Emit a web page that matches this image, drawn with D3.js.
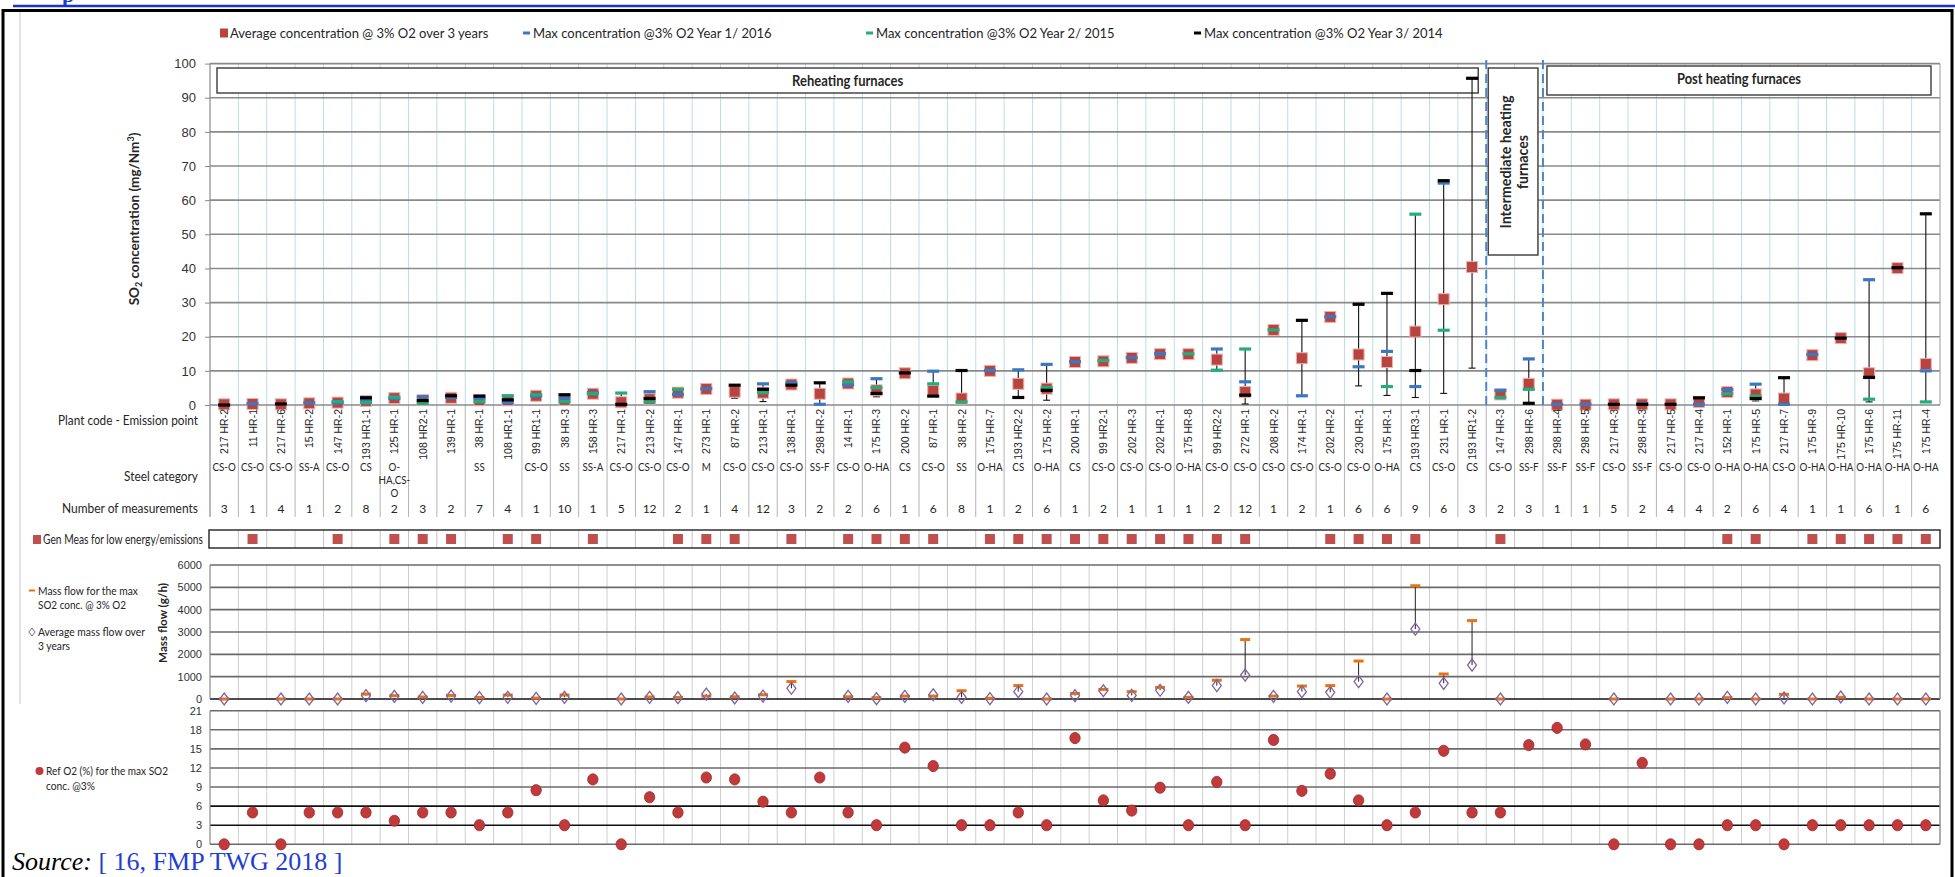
<!DOCTYPE html>
<html><head><meta charset="utf-8">
<script src="https://cdn.jsdelivr.net/npm/d3@7"></script>
<style>
body{margin:0;background:#fff}
svg{display:block}
text{fill:#262626}
</style>
</head><body>
<svg id="c" width="1955" height="877" font-family="Lato,sans-serif"></svg>
<script>
// ---------------- DATA ----------------
const plantCodes = ["217 HR-2","11 HR-1","217 HR-6","15 HR-2","147 HR-2","193 HR1-1","125 HR-1","108 HR2-1","139 HR-1","38 HR-1","108 HR1-1","99 HR1-1","38 HR-3","158 HR-3","217 HR-1","213 HR-2","147 HR-1","273 HR-1","87 HR-2","213 HR-1","138 HR-1","298 HR-2","14 HR-1","175 HR-3","200 HR-2","87 HR-1","38 HR-2","175 HR-7","193 HR2-2","175 HR-2","200 HR-1","99 HR2-1","202 HR-3","202 HR-1","175 HR-8","99 HR2-2","272 HR-1","208 HR-2","174 HR-1","202 HR-2","230 HR-1","175 HR-1","193 HR3-1","231 HR-1","193 HR1-2","147 HR-3","298 HR-6","298 HR-4","298 HR-5","217 HR-3","298 HR-3","217 HR-5","217 HR-4","152 HR-1","175 HR-5","217 HR-7","175 HR-9","175 HR-10","175 HR-6","175 HR-11","175 HR-4"];
const steelCategory = ["CS-O","CS-O","CS-O","SS-A","CS-O","CS","O-HA,CS-O","","","SS","","CS-O","SS","SS-A","CS-O","CS-O","CS-O","M","CS-O","CS-O","CS-O","SS-F","CS-O","O-HA","CS","CS-O","SS","O-HA","CS","O-HA","CS","CS-O","CS-O","CS-O","O-HA","CS-O","CS-O","CS-O","CS-O","CS-O","CS-O","O-HA","CS","CS-O","CS","CS-O","SS-F","SS-F","SS-F","CS-O","SS-F","CS-O","CS-O","O-HA","O-HA","CS-O","O-HA","O-HA","O-HA","O-HA","O-HA"];
const nMeasurements = [3,1,4,1,2,8,2,3,2,7,4,1,10,1,5,12,2,1,4,12,3,2,2,6,1,6,8,1,2,6,1,2,1,1,1,2,12,1,2,1,6,6,9,6,3,2,3,1,1,5,2,4,4,2,6,4,1,1,6,1,6];
const avgConc = [0.2,0.3,0.2,0.5,0.7,1.2,2.0,1.4,2.1,1.4,1.4,2.7,1.5,3.3,0.8,1.7,3.6,4.7,3.9,3.6,6.0,3.3,6.3,4.3,9.3,4.1,1.9,10.0,6.2,4.8,12.6,12.8,13.8,14.9,14.9,13.3,3.8,22.0,13.7,25.8,14.8,12.6,21.5,31.0,40.4,3.1,6.2,0.1,0.1,0.2,0.2,0.2,0.9,3.8,3.1,1.9,14.6,19.6,9.3,40.1,12.0];
const max2016 = [null,0.4,null,0.6,0.6,1.4,1.9,2.4,2.2,1.9,0.7,2.6,2.0,3.6,null,3.9,3.1,4.8,null,6.2,6.5,0.2,5.9,7.7,null,9.9,null,10.1,10.3,11.9,12.7,null,13.9,15.0,null,16.4,6.8,null,2.7,25.9,11.2,15.7,5.4,65.0,null,4.3,13.5,0.2,0.2,null,0.4,null,0.2,4.5,6.1,0.2,14.8,null,36.7,null,10.0];
const max2015 = [null,null,null,null,1.0,0.7,2.3,0.5,null,1.0,2.7,3.0,1.0,3.3,3.5,0.9,4.6,null,null,3.6,null,null,6.8,5.1,null,6.2,0.9,null,null,5.1,null,13.0,null,null,15.0,10.2,16.4,22.0,null,null,null,5.4,55.9,21.9,null,2.2,4.6,null,null,null,null,null,null,3.3,2.6,null,null,null,1.7,null,0.9];
const max2014 = [0.0,null,0.3,null,null,2.1,null,1.3,2.7,2.6,1.5,null,3.0,null,0.2,1.9,null,null,5.8,4.6,5.8,6.5,null,3.4,9.4,2.6,10.1,null,2.2,4.3,null,null,null,null,null,null,2.9,null,24.8,null,29.5,32.7,10.1,65.7,95.7,null,0.5,null,null,0.2,0.2,0.2,2.1,null,1.9,8.0,null,19.6,8.1,40.2,56.0];
const rangeLow = [null,null,null,null,null,null,null,null,null,null,null,null,null,null,null,null,null,null,2.0,1.0,null,null,null,2.4,null,null,null,null,null,1.4,null,null,null,null,null,null,0.3,null,null,null,5.6,2.8,2.2,3.4,10.8,null,null,null,null,null,null,null,null,null,1.2,null,null,null,0.9,null,null];
const genMeas = [0,1,0,0,1,0,1,1,1,0,1,1,0,1,0,0,1,1,1,0,1,0,1,1,1,1,0,1,1,1,1,1,1,1,1,1,1,0,0,1,1,1,1,0,0,1,0,0,0,0,0,0,0,1,1,0,1,1,1,1,1];
const massFlowAvg = [0,null,0,0,0,150,120,75,130,60,75,30,75,null,0,75,60,220,45,130,480,null,120,15,120,190,75,15,330,0,150,370,160,390,75,600,1070,120,330,300,780,0,3130,700,1520,0,null,null,null,0,null,0,0,75,0,45,0,90,0,0,0];
const massFlowMax = [0,null,0,0,0,220,150,90,160,70,180,40,180,null,0,90,70,130,100,190,780,null,100,60,130,130,370,30,600,0,250,430,330,520,75,840,2660,130,580,600,1700,0,5070,1120,3510,0,null,null,null,0,null,0,0,60,0,210,0,80,0,0,0];
const refO2 = [0,5,0,5,5,5,3.7,5,5,3,5,8.5,3,10.2,0,7.4,5,10.5,10.2,6.7,5,10.5,5,3,15.2,12.3,3,3,5,3,16.7,6.9,5.3,8.9,3,9.8,3,16.4,8.4,11.1,6.9,3,5,14.7,5,5,15.6,18.3,15.7,0,12.8,0,0,3,3,0,3,3,3,3,3];
const concTicks = [0,10,20,30,40,50,60,70,80,90,100];
const massTicks = [0,1000,2000,3000,4000,5000,6000];
const o2Ticks = [0,3,6,9,12,15,18,21];
const seriesNames = ["Average concentration @ 3% O2 over 3 years","Max concentration @3% O2 Year 1/ 2016","Max concentration @3% O2 Year 2/ 2015","Max concentration @3% O2 Year 3/ 2014"];
const groupNames = ["Reheating furnaces","Intermediate heating furnaces","Post heating furnaces"];

// ---------------- LAYOUT ----------------
const svg = d3.select("#c");
const N = plantCodes.length;
const L = 210, R = 1940;
const ARIAL = '"Liberation Sans",Arial,sans-serif';
const SERIF = '"Liberation Serif","Times New Roman",serif';
const RED = "#b8443f", BLUE = "#3a78c2", GREEN = "#22ad7c", BLACK = "#000";
function fit(sel, w) { sel.attr("textLength", w).attr("lengthAdjust", "spacingAndGlyphs"); return sel; }
function condense(sel, f) {
  sel.each(function () { const l = this.getComputedTextLength(); if (l > 0) d3.select(this).attr("textLength", l * f).attr("lengthAdjust", "spacingAndGlyphs"); });
  return sel;
}

const x = d3.scaleBand().domain(d3.range(N)).range([L, R]).padding(0);
const bw = x.bandwidth();
const cx = i => x(i) + bw / 2;
const y = d3.scaleLinear().domain([0, 100]).range([405, 63.6]);
const yM = d3.scaleLinear().domain([0, 6000]).range([699, 565]);
const yO = d3.scaleLinear().domain([0, 21]).range([844.3, 710.7]);

// page decorations
svg.append("text").attr("x", 62).attr("y", 2).style("font-family", SERIF)
  .attr("font-weight", "bold").attr("font-size", 22).style("fill", "#1b3fd1").text("p");
svg.append("line").attr("x1", 13).attr("x2", 1955).attr("y1", 6).attr("y2", 6).attr("stroke", "#1433d6").attr("stroke-width", 2.5);
svg.append("path").attr("d", "M3,877V10.5H1952V877").attr("fill", "none").attr("stroke", "#000").attr("stroke-width", 3);
svg.append("line").attr("x1", 20).attr("x2", 20).attr("y1", 12).attr("y2", 704).attr("stroke", "#c8c8c8").attr("stroke-width", 1);

// ---------------- LEGEND ----------------
const legY = 33;
const leg = [
  {x: 220, type: "sq", color: RED, name: seriesNames[0]},
  {x: 523, type: "dash", color: BLUE, name: seriesNames[1]},
  {x: 866, type: "dash", color: GREEN, name: seriesNames[2]},
  {x: 1194, type: "dash", color: BLACK, name: seriesNames[3]}
];
leg.forEach(d => {
  if (d.type === "sq") svg.append("rect").attr("x", d.x).attr("y", legY - 4.5).attr("width", 8).attr("height", 9).attr("fill", d.color);
  else svg.append("rect").attr("x", d.x).attr("y", legY - 1.5).attr("width", 7).attr("height", 3).attr("fill", d.color);
  svg.append("text").attr("x", d.x + 10).attr("y", legY).attr("dy", "0.35em").attr("font-size", 14).text(d.name)
    .call(condense, 0.93);
});

// ---------------- MAIN PANEL ----------------
const main = svg.append("g");
main.selectAll(".vs").data(d3.range(1, N)).join("line")
  .attr("x1", i => x(i)).attr("x2", i => x(i)).attr("y1", y(100)).attr("y2", y(0))
  .attr("stroke", "#b9dde8").attr("stroke-width", 1);
main.selectAll(".vs2").data(d3.range(1, N)).join("line")
  .attr("x1", i => x(i)).attr("x2", i => x(i)).attr("y1", y(0)).attr("y2", 517)
  .attr("stroke", "#b4b4b4").attr("stroke-width", 1);
main.selectAll(".gl").data(concTicks).join("line")
  .attr("x1", L).attr("x2", R).attr("y1", d => y(d)).attr("y2", d => y(d))
  .attr("stroke", "#8a8a8a").attr("stroke-width", 1.6);
main.append("line").attr("x1", R).attr("x2", R).attr("y1", y(100)).attr("y2", y(0)).attr("stroke", "#9a9a9a");
main.append("line").attr("x1", L).attr("x2", L).attr("y1", y(100)).attr("y2", 517).attr("stroke", "#8a8a8a").attr("stroke-width", 1.2);
const ax = main.append("g").attr("transform", `translate(${L},0)`)
  .call(d3.axisLeft(y).tickValues(concTicks).tickSize(5).tickPadding(9));
ax.select(".domain").remove();
ax.selectAll("line").attr("stroke", "#8a8a8a");
ax.selectAll("text").attr("font-family", null).attr("font-size", 13).style("fill", "#333");
const yt = main.append("text").attr("transform", "translate(139,219) rotate(-90)")
  .attr("text-anchor", "middle").attr("font-weight", "bold").attr("font-size", 13.5);
yt.append("tspan").text("SO");
yt.append("tspan").attr("font-size", 9).attr("dy", 3).text("2");
yt.append("tspan").attr("dy", -3).text(" concentration (mg/Nm");
yt.append("tspan").attr("font-size", 9).attr("dy", -5).text("3");
yt.append("tspan").attr("dy", 5).text(")");

// group boxes
const boxG = main.append("g");
function box(x0, x1, y0, y1) {
  boxG.append("rect").attr("x", x0).attr("y", y0).attr("width", x1 - x0).attr("height", y1 - y0)
    .attr("fill", "#fff").attr("stroke", "#3a3a3a").attr("stroke-width", 1.4);
}
box(x(0) + 7, x(44) + bw - 8, 68, 93);
box(x(45) + 2, x(46) + bw - 5, 68, 255);
box(x(47) + 4, x(60) + bw - 9, 66, 95);
boxG.append("text").attr("x", (x(0) + 7 + x(44) + bw - 8) / 2).attr("y", 80.5).attr("dy", "0.35em")
  .attr("text-anchor", "middle").attr("font-weight", "bold").attr("font-size", 15).text(groupNames[0]).call(fit, 111);
const imx = (x(45) + x(46) + bw - 3) / 2;
boxG.append("text").attr("transform", `translate(${imx - 8},162) rotate(-90)`).attr("dy", "0.35em")
  .attr("text-anchor", "middle").attr("font-weight", "bold").attr("font-size", 15.5).text("Intermediate heating").call(fit, 133);
boxG.append("text").attr("transform", `translate(${imx + 9},162) rotate(-90)`).attr("dy", "0.35em")
  .attr("text-anchor", "middle").attr("font-weight", "bold").attr("font-size", 15.5).text("furnaces").call(fit, 54);
boxG.append("text").attr("x", (x(47) + 4 + x(60) + bw - 9) / 2).attr("y", 79).attr("dy", "0.35em")
  .attr("text-anchor", "middle").attr("font-weight", "bold").attr("font-size", 15).text(groupNames[2]).call(fit, 124);
[45, 47].forEach(i => {
  main.append("line").attr("x1", x(i)).attr("x2", x(i)).attr("y1", 60).attr("y2", y(0))
    .attr("stroke", "#4a86c8").attr("stroke-width", 2).attr("stroke-dasharray", "9,5");
});

// whiskers
const yearSeries = [max2016, max2015, max2014];
d3.range(N).forEach(i => {
  const yv = yearSeries.map(s => s[i]).filter(v => v !== null);
  if (!yv.length) return;
  const top = d3.max(yv);
  const lowVals = yv.slice(); if (rangeLow[i] !== null) lowVals.push(rangeLow[i]);
  const low = d3.min(lowVals);
  if (top - low > 1) {
    main.append("line").attr("x1", cx(i)).attr("x2", cx(i)).attr("y1", y(top)).attr("y2", y(low))
      .attr("stroke", "#111").attr("stroke-width", 1.1);
    if (rangeLow[i] !== null) {
      main.append("line").attr("x1", cx(i) - 3.5).attr("x2", cx(i) + 3.5).attr("y1", y(rangeLow[i])).attr("y2", y(rangeLow[i]))
        .attr("stroke", "#111").attr("stroke-width", 1.1);
    }
  }
});
main.selectAll(".avg").data(d3.range(N)).join("rect")
  .attr("x", i => cx(i) - 5.5).attr("y", i => y(avgConc[i]) - 5.5).attr("width", 11).attr("height", 11)
  .attr("fill", RED).attr("stroke", "#e9b3b1").attr("stroke-width", 1);
[[max2016, BLUE], [max2015, GREEN], [max2014, BLACK]].forEach(([s, col]) => {
  main.append("g").selectAll("rect").data(d3.range(N).filter(i => s[i] !== null)).join("rect")
    .attr("x", i => cx(i) - 6).attr("y", i => y(s[i]) - 1.6).attr("width", 12).attr("height", 3.2)
    .attr("fill", col);
});

// category label rows
const rowLbl = [["Plant code - Emission point", 420, 140], ["Steel category", 476, 74], ["Number of measurements", 508, 136]];
rowLbl.forEach(([t, yy, w]) => main.append("text").attr("x", 198).attr("y", yy).attr("dy", "0.35em")
  .attr("text-anchor", "end").attr("font-size", 13).text(t).call(fit, w));
main.selectAll(".pc").data(d3.range(N)).join("text")
  .attr("transform", i => `translate(${cx(i) + 4},409) rotate(-90)`)
  .attr("text-anchor", "end").style("font-family", ARIAL).attr("font-size", 10.5).style("fill", "#222")
  .text(i => plantCodes[i]);
function wrapCat(s) {
  const parts = s.split(/(?<=-)/);
  const lines = []; let cur = "";
  parts.forEach(p => { if ((cur + p).length > 6 && cur) { lines.push(cur); cur = p; } else cur += p; });
  if (cur) lines.push(cur);
  return lines;
}
d3.range(N).forEach(i => {
  wrapCat(steelCategory[i]).forEach((ln, k) => {
    main.append("text").attr("x", cx(i)).attr("y", 467 + k * 13).attr("dy", "0.35em")
      .attr("text-anchor", "middle").attr("font-size", 11.5).text(ln).call(condense, 0.85);
  });
});
main.selectAll(".nm").data(d3.range(N)).join("text")
  .attr("x", cx).attr("y", 509).attr("dy", "0.35em").attr("text-anchor", "middle").attr("font-size", 12)
  .text(i => nMeasurements[i]);

// ---------------- GEN MEAS ROW ----------------
const gm = svg.append("g");
const gmY0 = 530, gmY1 = 548;
gm.selectAll("line").data(d3.range(1, N)).join("line")
  .attr("x1", i => x(i)).attr("x2", i => x(i)).attr("y1", gmY0).attr("y2", gmY1).attr("stroke", "#c4c4c4");
gm.append("rect").attr("x", L - 1).attr("y", gmY0).attr("width", R - L + 1).attr("height", gmY1 - gmY0)
  .attr("fill", "none").attr("stroke", "#222").attr("stroke-width", 1.4);
gm.selectAll(".g").data(d3.range(N).filter(i => genMeas[i])).join("rect")
  .attr("x", i => cx(i) - 5).attr("y", (gmY0 + gmY1) / 2 - 5).attr("width", 10).attr("height", 10).attr("fill", "#c0504d");
gm.append("rect").attr("x", 33).attr("y", 535).attr("width", 8).attr("height", 9).attr("fill", "#c0504d");
gm.append("text").attr("x", 43).attr("y", 539.5).attr("dy", "0.35em").attr("font-size", 12.5)
  .text("Gen Meas for low energy/emissions").call(fit, 160);

// ---------------- MASS FLOW PANEL ----------------
const mp = svg.append("g");
mp.selectAll(".vs").data(d3.range(1, N)).join("line")
  .attr("x1", i => x(i)).attr("x2", i => x(i)).attr("y1", yM(6000)).attr("y2", yM(0)).attr("stroke", "#cfcfcf");
mp.selectAll(".gl").data(massTicks).join("line")
  .attr("x1", L).attr("x2", R).attr("y1", d => yM(d)).attr("y2", d => yM(d))
  .attr("stroke", d => d === 0 ? "#111" : "#6a6a6a").attr("stroke-width", 1.6);
mp.append("line").attr("x1", R).attr("x2", R).attr("y1", yM(6000)).attr("y2", yM(0)).attr("stroke", "#8a8a8a").attr("stroke-width", 1.4);
mp.append("line").attr("x1", L).attr("x2", L).attr("y1", yM(6000)).attr("y2", yM(0)).attr("stroke", "#8a8a8a").attr("stroke-width", 1.2);
const axM = mp.append("g").attr("transform", `translate(${L},0)`)
  .call(d3.axisLeft(yM).tickValues(massTicks).tickFormat(d3.format("d")).tickSize(0).tickPadding(8));
axM.select(".domain").remove();
axM.selectAll("text").attr("font-family", null).attr("font-size", 11).style("fill", "#333");
mp.append("text").attr("transform", "translate(163,623) rotate(-90)").attr("dy", "0.35em").attr("text-anchor", "middle")
  .attr("font-weight", "bold").attr("font-size", 11.5).text("Mass flow (g/h)").call(fit, 80);
d3.range(N).forEach(i => {
  const a = massFlowAvg[i], m = massFlowMax[i];
  if (a !== null && m !== null && Math.abs(m - a) > 40)
    mp.append("line").attr("x1", cx(i)).attr("x2", cx(i)).attr("y1", yM(a)).attr("y2", yM(m)).attr("stroke", "#222").attr("stroke-width", 1);
});
mp.selectAll(".mx").data(d3.range(N).filter(i => massFlowMax[i] !== null)).join("rect")
  .attr("x", i => cx(i) - 5).attr("y", i => yM(massFlowMax[i]) - 1.5).attr("width", 10).attr("height", 3).attr("fill", "#e8730f");
const diamond = "M0,-6L4.5,0L0,6L-4.5,0Z";
mp.selectAll(".av").data(d3.range(N).filter(i => massFlowAvg[i] !== null)).join("path")
  .attr("d", diamond).attr("transform", i => `translate(${cx(i)},${yM(massFlowAvg[i])})`)
  .attr("fill", "none").attr("stroke", "#8064a2").attr("stroke-width", 1.3);
mp.append("rect").attr("x", 29).attr("y", 589.5).attr("width", 6).attr("height", 2).attr("fill", "#e8730f");
mp.append("path").attr("d", "M0,-4L3.2,0L0,4L-3.2,0Z").attr("transform", "translate(32,632)").attr("fill", "none").attr("stroke", "#8064a2");
[["Mass flow for the max", 591, 100], ["SO2 conc. @ 3% O2", 605, 88], ["Average mass flow over", 632, 107], ["3 years", 646, 32]].forEach(([t, yy, w]) =>
  mp.append("text").attr("x", 38).attr("y", yy).attr("dy", "0.35em").attr("font-size", 12).text(t).call(fit, w));

// ---------------- REF O2 PANEL ----------------
const op = svg.append("g");
op.selectAll(".vs").data(d3.range(1, N)).join("line")
  .attr("x1", i => x(i)).attr("x2", i => x(i)).attr("y1", yO(21)).attr("y2", yO(0)).attr("stroke", "#cfcfcf");
op.selectAll(".gl").data(o2Ticks).join("line")
  .attr("x1", L).attr("x2", R).attr("y1", d => yO(d)).attr("y2", d => yO(d))
  .attr("stroke", d => (d === 3 || d === 6) ? "#111" : "#6a6a6a").attr("stroke-width", 1.6);
op.append("line").attr("x1", R).attr("x2", R).attr("y1", yO(21)).attr("y2", yO(0)).attr("stroke", "#8a8a8a").attr("stroke-width", 1.4);
op.append("line").attr("x1", L).attr("x2", L).attr("y1", yO(21)).attr("y2", yO(0)).attr("stroke", "#8a8a8a").attr("stroke-width", 1.2);
const axO = op.append("g").attr("transform", `translate(${L},0)`)
  .call(d3.axisLeft(yO).tickValues(o2Ticks).tickSize(0).tickPadding(8));
axO.select(".domain").remove();
axO.selectAll("text").attr("font-family", null).attr("font-size", 11).style("fill", "#333");
op.selectAll(".dot").data(d3.range(N)).join("ellipse")
  .attr("cx", cx).attr("cy", i => yO(refO2[i])).attr("rx", 5.2).attr("ry", 5.6)
  .attr("fill", "#c0393b").attr("stroke", "#9e2a2b").attr("stroke-width", 0.8);
op.append("circle").attr("cx", 39.5).attr("cy", 771).attr("r", 4).attr("fill", "#c0393b");
[["Ref O2 (%) for the max SO2", 771, 122], ["conc. @3%", 786, 49]].forEach(([t, yy, w]) =>
  op.append("text").attr("x", 46).attr("y", yy).attr("dy", "0.35em").attr("font-size", 12).text(t).call(fit, w));

// ---------------- SOURCE ----------------
const src = svg.append("text").attr("x", 12).attr("y", 870).style("font-family", SERIF).attr("font-size", 26);
src.append("tspan").attr("font-style", "italic").style("fill", "#000").text("Source: ");
src.append("tspan").style("fill", "#1f3fd1").text("[ 16, FMP TWG 2018 ]");
</script>
</body></html>
